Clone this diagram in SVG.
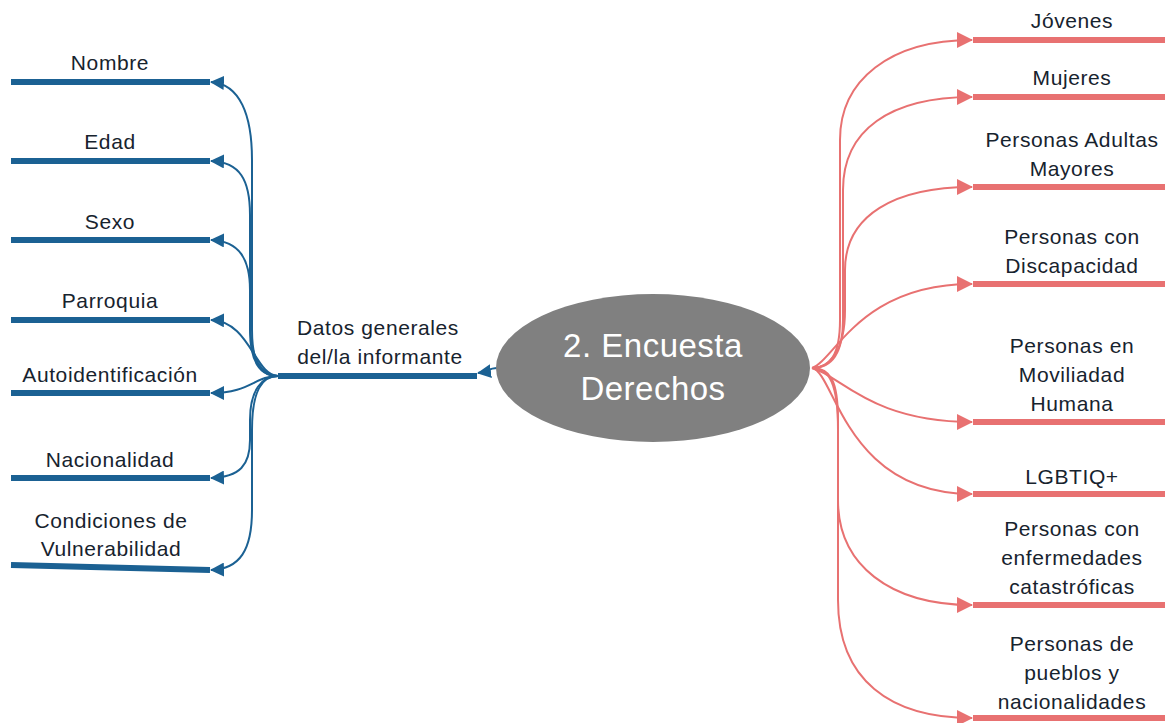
<svg xmlns="http://www.w3.org/2000/svg" width="1165" height="723" viewBox="0 0 1165 723">
<style>
  .t { font-family: "Liberation Sans", Arial, sans-serif; font-size: 21px; letter-spacing: 0.6px; fill: #17232e; text-anchor: middle; }
  .c { font-family: "Liberation Sans", Arial, sans-serif; font-size: 33px; letter-spacing: 0.5px; fill: #ffffff; text-anchor: middle; }
  .bb { stroke: #1b6193; stroke-width: 6; fill: none; }
  .rb { stroke: #e87171; stroke-width: 6; fill: none; }
  .bc { stroke: #1b6193; stroke-width: 2; fill: none; marker-end: url(#ab); }
  .rc { stroke: #e87171; stroke-width: 2; fill: none; marker-end: url(#ar); }
</style>
<defs>
  <marker id="ar" viewBox="0 0 16 16" markerWidth="16" markerHeight="16" refX="15" refY="8" orient="auto" markerUnits="userSpaceOnUse">
    <path d="M0,0 L16,8 L0,16 Z" fill="#e87171"/>
  </marker>
  <marker id="ab" viewBox="0 0 14 14" markerWidth="14" markerHeight="14" refX="13" refY="7" orient="auto" markerUnits="userSpaceOnUse">
    <path d="M0,0 L14,7 L0,14 Z" fill="#1b6193"/>
  </marker>
</defs>

<g id="connectors">
  <path class="bc" d="M278,376 C262,376 252,365 252,330 L252,160 C252,115 240,84 211,82"/>
  <path class="bc" d="M278,376 C262,376 250,365 250,330 L250,215 C250,180 240,162 211,161"/>
  <path class="bc" d="M278,376 C262,376 250,360 250,320 L250,290 C250,260 240,241 211,240"/>
  <path class="bc" d="M278,376 C255,376 250,321 211,320"/>
  <path class="bc" d="M278,376 C255,376 250,393 211,393"/>
  <path class="bc" d="M278,376 C262,376 250,390 250,420 L250,440 C250,465 240,477 211,478"/>
  <path class="bc" d="M278,376 C262,376 252,390 252,430 L252,510 C252,550 240,569 211,570"/>
  <path class="bc" d="M497,368 C490,368 485,372 478,373"/>

  <path class="rc" d="M812,368 C830,368 840,355 840,320 L840,140 C840,80 890,40 972,40"/>
  <path class="rc" d="M812,368 C830,368 843,355 843,320 L843,190 C843,130 890,97 972,97"/>
  <path class="rc" d="M812,368 C830,368 845,350 845,310 L845,270 C845,215 895,187 972,187"/>
  <path class="rc" d="M812,368 C835,360 860,284 972,284"/>
  <path class="rc" d="M812,368 C840,375 870,422 972,422"/>
  <path class="rc" d="M812,368 C835,372 845,494 972,494"/>
  <path class="rc" d="M812,368 C830,368 838,380 838,420 L838,500 C838,565 890,605 972,605"/>
  <path class="rc" d="M812,368 C830,368 838,385 838,430 L838,600 C838,680 890,718 972,718"/>
</g>

<g id="center">
  <ellipse cx="653" cy="368" rx="157" ry="74" fill="#808080"/>
  <text class="c" x="653" y="357">2. Encuesta</text>
  <text class="c" x="653" y="400">Derechos</text>
</g>

<g id="datos">
  <line class="bb" x1="278" y1="376" x2="477" y2="376"/>
  <text class="t" x="378" y="335">Datos generales</text>
  <text class="t" x="380" y="364">del/la informante</text>
</g>

<g id="nombre"><line class="bb" x1="11" y1="82" x2="210" y2="82"/><text class="t" x="110" y="70">Nombre</text></g>
<g id="edad"><line class="bb" x1="11" y1="161" x2="210" y2="161"/><text class="t" x="110" y="149">Edad</text></g>
<g id="sexo"><line class="bb" x1="11" y1="240" x2="210" y2="240"/><text class="t" x="110" y="229">Sexo</text></g>
<g id="parroquia"><line class="bb" x1="11" y1="320" x2="210" y2="320"/><text class="t" x="110" y="308">Parroquia</text></g>
<g id="autoidentificacion"><line class="bb" x1="11" y1="393" x2="210" y2="393"/><text class="t" x="110" y="382">Autoidentificación</text></g>
<g id="nacionalidad"><line class="bb" x1="11" y1="478" x2="210" y2="478"/><text class="t" x="110" y="467">Nacionalidad</text></g>
<g id="vulnerabilidad"><line class="bb" x1="11" y1="565" x2="210" y2="570"/><text class="t" x="111" y="528">Condiciones de</text><text class="t" x="111" y="556">Vulnerabilidad</text></g>

<g id="jovenes"><line class="rb" x1="973" y1="40" x2="1165" y2="40"/><text class="t" x="1072" y="28">Jóvenes</text></g>
<g id="mujeres"><line class="rb" x1="973" y1="97" x2="1165" y2="97"/><text class="t" x="1072" y="85">Mujeres</text></g>
<g id="adultas"><line class="rb" x1="973" y1="187" x2="1165" y2="187"/><text class="t" x="1072" y="147">Personas Adultas</text><text class="t" x="1072" y="176">Mayores</text></g>
<g id="discapacidad"><line class="rb" x1="973" y1="284" x2="1165" y2="284"/><text class="t" x="1072" y="244">Personas con</text><text class="t" x="1072" y="273">Discapacidad</text></g>
<g id="movilidad"><line class="rb" x1="973" y1="422" x2="1165" y2="422"/><text class="t" x="1072" y="353">Personas en</text><text class="t" x="1072" y="382">Moviliadad</text><text class="t" x="1072" y="411">Humana</text></g>
<g id="lgbtiq"><line class="rb" x1="973" y1="494" x2="1165" y2="494"/><text class="t" x="1072" y="484">LGBTIQ+</text></g>
<g id="enfermedades"><line class="rb" x1="973" y1="605" x2="1165" y2="605"/><text class="t" x="1072" y="536">Personas con</text><text class="t" x="1072" y="565">enfermedades</text><text class="t" x="1072" y="594">catastróficas</text></g>
<g id="pueblos"><line class="rb" x1="973" y1="718" x2="1165" y2="718"/><text class="t" x="1072" y="651">Personas de</text><text class="t" x="1072" y="680">pueblos y</text><text class="t" x="1072" y="709">nacionalidades</text></g>
</svg>
